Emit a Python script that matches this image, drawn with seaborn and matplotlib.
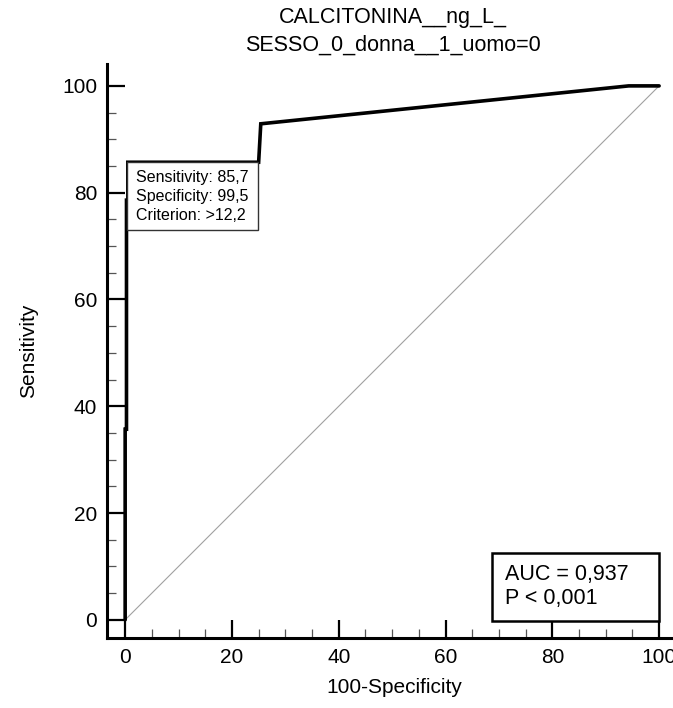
import matplotlib
matplotlib.use("Agg")
import matplotlib.pyplot as plt
from matplotlib.patches import Rectangle
from matplotlib.ticker import MultipleLocator
import pandas as pd
import seaborn as sns

# ROC curve points (100-Specificity, Sensitivity)
fpr = [0, 0, 0.25, 0.25, 0.5, 0.5, 25.0, 25.4, 94.3, 100]
tpr = [0, 35.7, 35.7, 78.6, 78.6, 85.7, 85.7, 92.9, 100, 100]
diag = [0, 100]

title_lines = ["CALCITONINA__ng_L_", "SESSO_0_donna__1_uomo=0"]
criterion_txt = ["Sensitivity: 85,7", "Specificity: 99,5", "Criterion: >12,2"]
auc_txt = ["AUC = 0,937", "P < 0,001"]

sns.set_theme(style="white")
plt.rcParams['font.family'] = ['Liberation Sans', 'DejaVu Sans']
plt.rcParams['text.color'] = 'black'
plt.rcParams['axes.labelcolor'] = 'black'
plt.rcParams['xtick.color'] = 'black'
plt.rcParams['ytick.color'] = 'black'

roc = pd.DataFrame({'x': fpr, 'y': tpr})

fig = plt.figure(figsize=(6.73, 7.08), dpi=100)
ax = fig.add_axes([107 / 673, 70 / 708, 574 / 673, 574 / 708])

# diagonal reference
sns.lineplot(x=diag, y=diag, ax=ax, color='#a0a0a0', lw=0.8)
# roc curve
sns.lineplot(data=roc, x='x', y='y', ax=ax, sort=False, estimator=None,
             color='black', lw=2.6, solid_joinstyle='miter')

ax.set_xlim(-3.4, 104.1)
ax.set_ylim(-3.4, 104.1)

for s in ['top', 'right']:
    ax.spines[s].set_visible(False)
for s in ['left', 'bottom']:
    ax.spines[s].set_linewidth(2.2)
    ax.spines[s].set_color('black')

ax.xaxis.set_major_locator(MultipleLocator(20))
ax.yaxis.set_major_locator(MultipleLocator(20))
ax.xaxis.set_minor_locator(MultipleLocator(5))
ax.yaxis.set_minor_locator(MultipleLocator(5))
ax.tick_params(which='major', direction='in', length=13, width=1.6, color='black',
               labelsize=15, pad=7, bottom=True, left=True)
ax.tick_params(which='minor', direction='in', length=6.5, width=0.9, color='#555555',
               bottom=True, left=True)

ax.set_xlabel("100-Specificity", fontsize=15, labelpad=8)
ax.set_ylabel("Sensitivity", fontsize=15, labelpad=17)

# title
fig.text(393 / 673, 1 - 18 / 708, title_lines[0], ha='center', va='center', fontsize=15.5)
fig.text(393 / 673, 1 - 45 / 708, title_lines[1], ha='center', va='center', fontsize=15.5)

# criterion box
ax.add_patch(Rectangle((0.4, 73.0), 24.5, 12.7, fc='white', ec='#333333', lw=1.0, zorder=4))
ax.text(2.0, 79.3, "\n".join(criterion_txt), fontsize=11.5, va='center', ha='left',
        linespacing=1.3, zorder=5)

# AUC box
ax.add_patch(Rectangle((68.7, -0.2), 31.3, 12.7, fc='white', ec='black', lw=1.8, zorder=4))
ax.text(71.2, 6.2, "\n".join(auc_txt), fontsize=15.5, va='center', ha='left',
        linespacing=1.2, zorder=5)

fig.savefig("out.png", dpi=100)
